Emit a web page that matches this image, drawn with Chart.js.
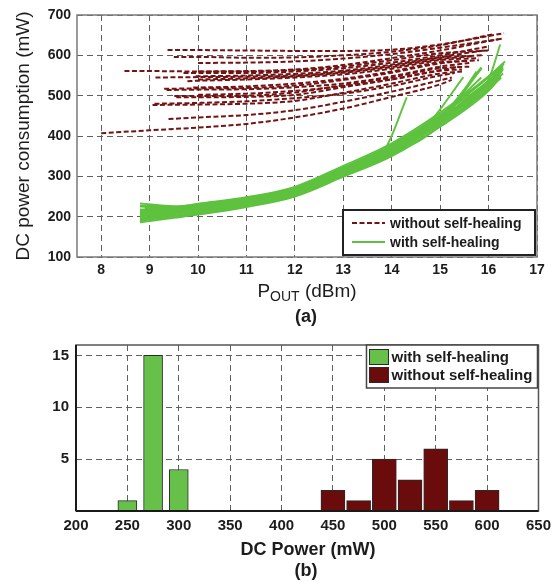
<!DOCTYPE html>
<html>
<head>
<meta charset="utf-8">
<script src="https://cdn.jsdelivr.net/npm/chart.js@4.4.1/dist/chart.umd.min.js"></script>
<style>
  html, body { margin: 0; padding: 0; background: #fff; }
  #wrap { position: relative; width: 557px; height: 586px; overflow: hidden; }
  canvas { position: absolute; left: 0; }
  #chartA { top: 0; }
  #chartB { top: 320px; }
</style>
</head>
<body>
<div id="wrap">
  <canvas id="chartA" width="557" height="335"></canvas>
  <canvas id="chartB" width="557" height="266"></canvas>
</div>
<script>
// ── Panel (a): DC power consumption (mW) vs P_OUT (dBm), one trace per chip ──
const withoutHealing = [
  [[9.37, 613], [10, 613], [11, 612], [12, 611], [13, 611], [14, 614], [15, 627], [16.32, 655]],
  [[9.5, 596], [10, 596], [11, 594], [12, 595], [13, 600], [14, 609], [15, 625], [16.07, 652]],
  [[10, 581], [11, 582], [12, 585], [13, 592], [14, 603], [15, 619], [16.28, 641]],
  [[8.48, 561], [9, 561], [10, 560], [11, 560], [12, 563], [13, 572], [14, 588], [15, 605], [16.03, 612]],
  [[9.7, 556], [10, 556], [11, 556], [12, 560], [13, 568], [14, 582], [15, 600], [16.0, 622]],
  [[9.12, 545], [10, 546], [11, 547], [12, 550], [13, 559], [14, 574], [15, 594], [15.87, 600]],
  [[9.78, 536], [10, 537], [11, 540], [12, 545], [13, 553], [14, 567], [15, 588], [15.8, 593]],
  [[9.95, 548], [11, 550], [12, 554], [13, 562], [14, 577], [15, 596], [15.9, 612]],
  [[9.3, 517], [10, 518], [11, 519], [12, 525], [13, 539], [14, 557], [15, 580], [15.8, 588]],
  [[9.35, 514], [10, 515], [11, 516], [12, 521], [13, 530], [14, 548], [15, 572], [15.6, 581]],
  [[9.51, 499], [10, 499], [11, 500], [12, 508], [13, 526], [14, 545], [15, 568], [15.6, 572]],
  [[9.55, 496], [10, 496], [11, 497], [12, 502], [13, 521], [14, 541], [15, 562], [15.45, 565]],
  [[9.06, 477], [10, 478], [11, 480], [12, 487], [13, 507], [14, 530], [15, 555], [15.45, 560]],
  [[9.1, 480], [10, 482], [11, 486], [12, 494], [13, 505], [14, 524], [15, 550], [15.3, 556]],
  [[9.39, 442], [10, 446], [11, 452], [12, 464], [13, 485], [14, 510], [15, 538], [15.24, 545]],
  [[8.0, 407], [9, 414], [10, 421], [11, 430], [12, 446], [13, 468], [14, 497], [15, 528], [15.24, 539]],
  [[10, 560], [11, 561], [12, 565], [13, 576], [14, 593], [15, 612], [16.2, 640]],
  [[10, 540], [11, 543], [12, 548], [13, 557], [14, 571], [15, 591], [15.7, 598]],
  [[9.9, 520], [11, 523], [12, 530], [13, 542], [14, 560], [15, 583], [15.5, 586]],
  [[10, 502], [11, 505], [12, 512], [13, 524], [14, 540], [15, 563], [15.4, 572]]
];
const withHealing = [
  [[8.8, 233], [9.5, 226], [10, 230], [11, 244], [12, 268], [13, 318], [14, 373], [15, 447], [16, 540], [16.24, 627]],
  [[8.8, 228], [9.5, 224], [10, 232], [11, 248], [12, 274], [13, 326], [14, 382], [15, 458], [16, 548], [16.34, 585]],
  [[8.8, 214], [9.5, 220], [10, 228], [11, 243], [12, 268], [13, 320], [14, 375], [15, 452], [16, 538], [16.27, 572]],
  [[8.8, 209], [9.5, 215], [10, 222], [11, 238], [12, 262], [13, 312], [14, 366], [15, 440], [16, 528], [16.24, 552]],
  [[8.8, 196], [9.5, 206], [10, 215], [11, 232], [12, 256], [13, 305], [14, 358], [15, 432], [16, 520], [16.3, 566]],
  [[8.8, 186], [9.5, 197], [10, 205], [11, 224], [12, 250], [13, 299], [14, 350], [15, 423], [16, 512], [16.25, 548]],
  [[8.9, 220], [9.5, 218], [10, 226], [11, 240], [12, 265], [13, 318], [13.86, 368], [14.31, 496]],
  [[8.9, 212], [9.5, 214], [10, 224], [11, 241], [12, 266], [13, 316], [14, 370], [14.75, 430], [15.48, 546]],
  [[8.8, 205], [9.5, 210], [10, 219], [11, 236], [12, 260], [13, 310], [14, 362], [15, 438], [15.86, 568]],
  [[8.8, 191], [9.5, 201], [10, 210], [11, 229], [12, 254], [13, 303], [14, 355], [15, 428], [15.75, 560]],
  [[8.8, 225], [9.5, 222], [10, 229], [11, 246], [12, 271], [13, 322], [14, 378], [15, 452], [16, 545], [16.3, 575]],
  [[8.8, 218], [9.5, 219], [10, 227], [11, 242], [12, 266], [13, 316], [14, 370], [15, 443], [16, 534], [16.28, 560]],
  [[8.8, 200], [9.5, 208], [10, 217], [11, 234], [12, 258], [13, 307], [14, 360], [15, 434], [16, 524], [16.3, 555]],
  [[8.8, 190], [9.5, 200], [10, 208], [11, 227], [12, 252], [13, 301], [14, 352], [15, 425], [16, 515], [16.26, 545]],
  [[8.8, 212], [9.5, 216], [10, 224], [11, 239], [12, 263], [13, 313], [14, 367], [15, 442], [16, 532], [16.25, 565]],
  [[8.9, 224], [9.5, 221], [10, 230], [11, 245], [12, 270], [13, 320], [14, 376], [15, 450], [15.85, 545]],
  [[8.8, 203], [9.5, 211], [10, 220], [11, 237], [12, 261], [13, 311], [14, 364], [15, 437], [16, 527], [16.3, 570]],
  [[8.8, 193], [9.5, 203], [10, 212], [11, 230], [12, 255], [13, 304], [14, 356], [15, 430], [16, 518], [16.22, 550]],
  [[8.8, 208], [9.5, 213], [10, 221], [11, 238], [12, 263], [13, 314], [14, 368], [15, 444], [16, 535], [16.32, 580]],
  [[8.9, 216], [9.5, 217], [10, 225], [11, 241], [12, 266], [13, 317], [14, 372], [15, 445], [15.85, 570]]
];
const poutTicks  = [8, 9, 10, 11, 12, 13, 14, 15, 16, 17];
const powerTicks = [100, 200, 300, 400, 500, 600, 700];

// ── Panel (b): histogram of DC power ──
const dcTicks       = [200, 250, 300, 350, 400, 450, 500, 550, 600, 650];
const countTicks    = [5, 10, 15];
const withBins      = [250, 275, 300];
const withCounts    = [1, 15, 4];
const withoutBins   = [450, 475, 500, 525, 550, 575, 600];
const withoutCounts = [2, 1, 5, 3, 6, 1, 2];

const FONT     = "'Liberation Sans', Arial, sans-serif";
const INK      = '#1c1c1c';
const GRID     = '#606060';
const RED      = '#741313';
const GREEN    = '#5ec23f';
const RED_BAR  = '#6b0c0c';
const GREEN_BAR = '#66c04a';

// frame, in-plot legend box and captions (subscript x title, panel tag)
const panelDecor = {
  id: 'panelDecor',
  afterDraw(chart, args, o) {
    const { ctx, chartArea: a } = chart;
    ctx.save();
    ctx.setLineDash([]);

    // plot frame
    ctx.strokeStyle = o.frameColor;
    ctx.lineWidth = o.frameWidth;
    ctx.strokeRect(a.left, a.top, a.right - a.left, a.bottom - a.top);
    if (o.baseColor) {
      ctx.strokeStyle = o.baseColor;
      ctx.lineWidth = 2;
      ctx.beginPath();
      ctx.moveTo(a.left, a.bottom); ctx.lineTo(a.right, a.bottom);
      ctx.moveTo(a.left, a.top); ctx.lineTo(a.left, a.bottom);
      ctx.stroke();
    }

    // legend
    const L = o.legend;
    const bx = a.right - L.insetR - L.w;
    const by = L.atTop ? a.top + L.insetT : a.bottom - L.insetB - L.h;
    ctx.fillStyle = '#fff';
    ctx.fillRect(bx, by, L.w, L.h);
    ctx.font = `bold ${L.size}px ${FONT}`;
    ctx.textBaseline = 'middle';
    ctx.textAlign = 'left';
    L.items.forEach((idx, i) => {
      const ds = chart.data.datasets[idx];
      const cy = by + L.row0 + i * L.rowGap;
      if (L.kind === 'line') {
        ctx.strokeStyle = ds.borderColor;
        ctx.lineWidth = ds.borderWidth;
        ctx.setLineDash(ds.borderDash || []);
        ctx.beginPath();
        ctx.moveTo(bx + L.sx0, cy); ctx.lineTo(bx + L.sx1, cy);
        ctx.stroke();
        ctx.setLineDash([]);
      } else {
        ctx.fillStyle = ds.backgroundColor;
        ctx.fillRect(bx + L.sx0, cy - 7.5, L.sx1 - L.sx0, 15);
        ctx.strokeStyle = ds.borderColor;
        ctx.lineWidth = 1;
        ctx.strokeRect(bx + L.sx0, cy - 7.5, L.sx1 - L.sx0, 15);
      }
      ctx.fillStyle = INK;
      ctx.fillText(ds.label, bx + L.tx, cy + 1);
    });
    ctx.strokeStyle = L.border;
    ctx.lineWidth = L.borderWidth;
    ctx.strokeRect(bx, by, L.w, L.h);

    // captions under the plot
    ctx.fillStyle = INK;
    ctx.textBaseline = 'alphabetic';
    o.captions.forEach(c => {
      let total = 0;
      c.parts.forEach(p => {
        ctx.font = `${p.bold ? 'bold ' : ''}${p.size}px ${FONT}`;
        p.w = ctx.measureText(p.text).width;
        total += p.w;
      });
      let x = c.cx - total / 2;
      c.parts.forEach(p => {
        ctx.font = `${p.bold ? 'bold ' : ''}${p.size}px ${FONT}`;
        ctx.fillText(p.text, x, c.y + (p.dy || 0));
        x += p.w;
      });
    });
    ctx.restore();
  }
};

function gridScale(extra) {
  return Object.assign({
    grid: { color: GRID, lineWidth: 1, drawTicks: false },
    border: { display: false, dash: [6, 4] }
  }, extra);
}

// ── Chart (a) ──
const datasetsA = [
  ...withoutHealing.map(pts => ({
    label: 'without self-healing', data: pts,
    borderColor: RED, borderWidth: 2, borderDash: [5, 2.5],
    pointRadius: 0, fill: false, cubicInterpolationMode: 'monotone'
  })),
  ...withHealing.map(pts => ({
    label: 'with self-healing', data: pts,
    borderColor: GREEN, borderWidth: 1.9,
    pointRadius: 0, fill: false, cubicInterpolationMode: 'monotone'
  }))
];

new Chart(document.getElementById('chartA'), {
  type: 'line',
  data: { datasets: datasetsA },
  options: {
    responsive: false,
    animation: false,
    events: [],
    layout: { padding: { top: 15, right: 20, bottom: 0, left: 0 } },
    plugins: {
      legend: { display: false },
      tooltip: { enabled: false },
      panelDecor: {
        frameColor: '#7a7a7a', frameWidth: 1.5,
        legend: {
          kind: 'line', items: [0, withoutHealing.length],
          w: 192, h: 45, insetR: 2, insetB: 2, row0: 13, rowGap: 19,
          sx0: 9, sx1: 42, tx: 47, size: 14, border: '#222', borderWidth: 2
        },
        captions: [
          { cx: 307, y: 297, parts: [
            { text: 'P', size: 19 },
            { text: 'OUT', size: 14, dy: 4 },
            { text: ' (dBm)', size: 19 }
          ] },
          { cx: 306, y: 322, parts: [{ text: '(a)', size: 18, bold: true }] }
        ]
      }
    },
    scales: {
      x: gridScale({
        type: 'linear', min: 7.5, max: 17,
        afterBuildTicks: s => { s.ticks = poutTicks.map(v => ({ value: v })); },
        afterFit: s => { s.height = 78; },
        ticks: { color: INK, font: { family: FONT, size: 14, weight: 'bold' }, padding: 5, maxRotation: 0, autoSkip: false }
      }),
      y: gridScale({
        type: 'linear', min: 100, max: 700,
        afterBuildTicks: s => { s.ticks = powerTicks.map(v => ({ value: v })); },
        afterFit: s => { s.width = 77; },
        ticks: { color: INK, font: { family: FONT, size: 14, weight: 'bold' }, padding: 6 },
        title: {
          display: true, text: 'DC power consumption (mW)', color: INK,
          font: { family: FONT, size: 19 }, padding: { top: 12, bottom: 0 }
        }
      })
    }
  },
  plugins: [panelDecor]
});

// ── Chart (b) ──
new Chart(document.getElementById('chartB'), {
  type: 'bar',
  data: {
    datasets: [
      {
        label: 'with self-healing',
        data: withBins.map((b, i) => ({ x: b, y: withCounts[i] })),
        backgroundColor: GREEN_BAR, borderColor: '#2a2a2a', borderWidth: 1,
        barThickness: 19, grouped: false
      },
      {
        label: 'without self-healing',
        data: withoutBins.map((b, i) => ({ x: b, y: withoutCounts[i] })),
        backgroundColor: RED_BAR, borderColor: '#2a2a2a', borderWidth: 1,
        barThickness: 24, grouped: false
      }
    ]
  },
  options: {
    responsive: false,
    animation: false,
    events: [],
    layout: { padding: { top: 25, right: 13, bottom: 0, left: 0 } },
    plugins: {
      legend: { display: false },
      tooltip: { enabled: false },
      panelDecor: {
        frameColor: '#555', frameWidth: 1.5, baseColor: '#1a1a1a',
        legend: {
          kind: 'box', items: [0, 1], atTop: true,
          w: 171, h: 43, insetR: 1, insetT: 0, row0: 12, rowGap: 18,
          sx0: 3, sx1: 22, tx: 25, size: 15, border: '#444', borderWidth: 1.5
        },
        captions: [
          { cx: 308, y: 235, parts: [{ text: 'DC Power (mW)', size: 18, bold: true }] },
          { cx: 306, y: 256, parts: [{ text: '(b)', size: 18, bold: true }] }
        ]
      }
    },
    scales: {
      x: gridScale({
        type: 'linear', min: 200, max: 650, offset: false,
        grid: { color: GRID, lineWidth: 1, drawTicks: false, offset: false },
        afterBuildTicks: s => { s.ticks = dcTicks.map(v => ({ value: v })); },
        afterFit: s => { s.height = 75; },
        ticks: { color: INK, font: { family: FONT, size: 15, weight: 'bold' }, padding: 6, maxRotation: 0, autoSkip: false }
      }),
      y: gridScale({
        type: 'linear', min: 0, max: 16,
        afterBuildTicks: s => { s.ticks = countTicks.map(v => ({ value: v })); },
        afterFit: s => { s.width = 76; },
        ticks: { color: INK, font: { family: FONT, size: 15, weight: 'bold' }, padding: 7 }
      })
    }
  },
  plugins: [panelDecor]
});
</script>
</body>
</html>
